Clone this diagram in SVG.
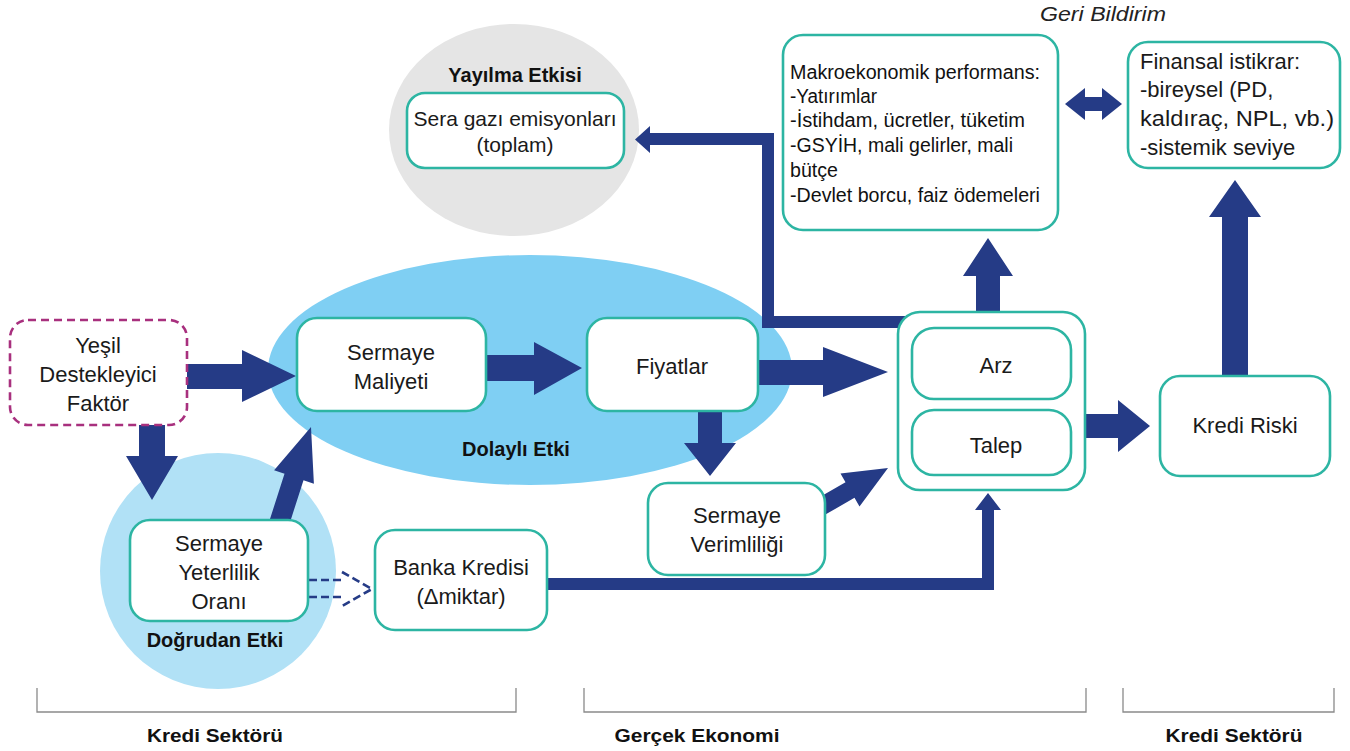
<svg xmlns="http://www.w3.org/2000/svg" width="1350" height="751" viewBox="0 0 1350 751">
<style>
.box{fill:#fff;stroke:#2db5a3;stroke-width:2.6}
.t{font-family:"Liberation Sans",Arial,sans-serif;font-size:22px;fill:#1a1a1a;text-anchor:middle}
.tl{font-family:"Liberation Sans",Arial,sans-serif;font-size:22px;fill:#1a1a1a}
.n{font-family:"Liberation Sans Narrow","Liberation Sans",Arial,sans-serif;font-size:20px;fill:#111}
.b{font-family:"Liberation Sans",Arial,sans-serif;font-weight:bold;font-size:20px;fill:#111;text-anchor:middle}
.bn{font-family:"Liberation Sans Narrow","Liberation Sans",Arial,sans-serif;font-weight:bold;font-size:19px;fill:#111;text-anchor:middle}
.arr{fill:#253b86}
.dash{fill:none;stroke:#253b86;stroke-width:2.6;stroke-dasharray:8 4}
.brk{fill:none;stroke:#8a8a8a;stroke-width:1.3}
</style>

<!-- background regions -->
<g id="spill-region"><ellipse cx="514" cy="130" rx="125" ry="106" fill="#e5e5e5"/></g>
<g id="indirect-region"><ellipse cx="530" cy="370" rx="262" ry="115" fill="#7fcff3"/></g>
<g id="direct-region"><circle cx="218" cy="571" r="118" fill="#b1e1f6"/></g>

<g id="connectors">
  <polygon class="arr" points="187,364 242,364 242,350 296,376 242,402 242,389 187,389"/>
  <polygon class="arr" points="139,425 165,425 165,456 178,456 152,500 126,456 139,456"/>
  <polygon class="arr" points="267.5,526.8 284.5,473.8 274.1,470.3 311,427 313.9,483.7 303.5,480.2 286.5,533.2"/>
  <polygon class="arr" points="486,355 534,355 534,342 582,368 534,395 534,381 486,381"/>
  <polygon class="arr" points="757,360 823,360 823,347 888,372 823,397 823,385 757,385"/>
  <polygon class="arr" points="698,408 722,408 722,443 736,443 710,476 684,443 698,443"/>
  <polygon class="arr" points="815.5,499.5 845.5,482.2 840.5,473.5 888,468 859.5,506.5 854.5,497.8 824.5,515.1"/>
  <polygon class="arr" points="545,578 982,578 982,510 975,510 988,493 1001,510 994,510 994,590 545,590"/>
  <polygon class="arr" points="976,314 1000,314 1000,276 1013,276 988,238 963,276 976,276"/>
  <polygon class="arr" points="905,328 762,328 762,145 650,145 650,153 635,139.5 650,126 650,133 774,133 774,316 905,316"/>
  <polygon class="arr" points="1083,414 1118,414 1118,400 1150,426 1118,452 1118,438 1083,438"/>
  <polygon class="arr" points="1222,378 1222,217 1209,217 1235,180 1261,217 1248,217 1248,378"/>
  <polygon class="arr" points="1065,104 1085,88 1085,97 1102,97 1102,88 1122,104 1102,120 1102,111 1085,111 1085,120"/>
  <path class="dash" d="M309,580 H342 M309,597 H342 M342,572 L372,589 L342,606"/>
</g>

<g id="node-yesil">
  <rect x="10" y="320" width="177" height="105" rx="18" fill="#fff" stroke="#a8307e" stroke-width="2.6" stroke-dasharray="8 5"/>
  <text class="t" x="98" y="353">Yeşil</text>
  <text class="t" x="98" y="382">Destekleyici</text>
  <text class="t" x="98" y="411">Faktör</text>
</g>

<g id="node-spill">
  <text class="b" x="515" y="82">Yayılma Etkisi</text>
  <rect class="box" x="407" y="93" width="217" height="75" rx="18"/>
  <text class="t" x="515" y="126" style="font-size:21px">Sera gazı emisyonları</text>
  <text class="t" x="515" y="152" style="font-size:21px">(toplam)</text>
</g>

<g id="node-sermaye-maliyeti">
  <rect class="box" x="297" y="318" width="189" height="93" rx="20"/>
  <text class="t" x="391" y="360">Sermaye</text>
  <text class="t" x="391" y="389">Maliyeti</text>
</g>

<g id="node-fiyatlar">
  <rect class="box" x="587" y="318" width="171" height="93" rx="20"/>
  <text class="t" x="672" y="374">Fiyatlar</text>
</g>

<g id="label-dolayli"><text class="b" x="516" y="456">Dolaylı Etki</text></g>

<g id="node-syo">
  <rect class="box" x="130" y="520" width="178" height="101" rx="20"/>
  <text class="t" x="219" y="551">Sermaye</text>
  <text class="t" x="219" y="580">Yeterlilik</text>
  <text class="t" x="219" y="609">Oranı</text>
  <text class="b" x="215" y="647">Doğrudan Etki</text>
</g>

<g id="node-banka">
  <rect class="box" x="375" y="530" width="172" height="100" rx="20"/>
  <text class="t" x="461" y="575">Banka Kredisi</text>
  <text class="t" x="461" y="604">(Δmiktar)</text>
</g>

<g id="node-verimlilik">
  <rect class="box" x="648" y="483" width="177" height="92" rx="20"/>
  <text class="t" x="737" y="523">Sermaye</text>
  <text class="t" x="737" y="552">Verimliliği</text>
</g>

<g id="node-arz-talep">
  <rect class="box" x="898" y="312" width="187" height="178" rx="22"/>
  <rect class="box" x="912" y="328" width="159" height="71" rx="22"/>
  <text class="t" x="996" y="373">Arz</text>
  <rect class="box" x="912" y="410" width="159" height="65" rx="22"/>
  <text class="t" x="996" y="453">Talep</text>
</g>

<g id="node-kredi-riski">
  <rect class="box" x="1160" y="376" width="170" height="100" rx="20"/>
  <text class="t" x="1245" y="433">Kredi Riski</text>
</g>

<g id="node-makro">
  <rect class="box" x="783" y="35" width="275" height="195" rx="20"/>
  <text class="n" x="790" y="79" textLength="250" lengthAdjust="spacingAndGlyphs">Makroekonomik performans:</text>
  <text class="n" x="790" y="103" textLength="87" lengthAdjust="spacingAndGlyphs">-Yatırımlar</text>
  <text class="n" x="790" y="127" textLength="235" lengthAdjust="spacingAndGlyphs">-İstihdam, ücretler, tüketim</text>
  <text class="n" x="790" y="152" textLength="223" lengthAdjust="spacingAndGlyphs">-GSYİH, mali gelirler, mali</text>
  <text class="n" x="790" y="177" textLength="48" lengthAdjust="spacingAndGlyphs">bütçe</text>
  <text class="n" x="790" y="202" textLength="250" lengthAdjust="spacingAndGlyphs">-Devlet borcu, faiz ödemeleri</text>
</g>

<g id="label-geri"><text x="1103" y="21" text-anchor="middle" style="font-family:'Liberation Sans',Arial,sans-serif;font-style:italic;font-size:20px;fill:#222" textLength="126" lengthAdjust="spacingAndGlyphs">Geri Bildirim</text></g>

<g id="node-finansal">
  <rect class="box" x="1128" y="42" width="212" height="126" rx="20"/>
  <text class="tl" x="1140" y="69">Finansal istikrar:</text>
  <text class="tl" x="1140" y="97">-bireysel (PD,</text>
  <text class="tl" x="1140" y="126" textLength="194" lengthAdjust="spacingAndGlyphs">kaldıraç, NPL, vb.)</text>
  <text class="tl" x="1140" y="155">-sistemik seviye</text>
</g>

<g id="brackets">
  <path class="brk" d="M37,688 V712 H516 V688 M584,688 V712 H1086 V688 M1123,688 V712 H1334 V688"/>
  <text class="bn" x="215" y="742" textLength="136" lengthAdjust="spacingAndGlyphs">Kredi Sektörü</text>
  <text class="bn" x="697" y="742" textLength="165" lengthAdjust="spacingAndGlyphs">Gerçek Ekonomi</text>
  <text class="bn" x="1234" y="742" textLength="137" lengthAdjust="spacingAndGlyphs">Kredi Sektörü</text>
</g>
</svg>
